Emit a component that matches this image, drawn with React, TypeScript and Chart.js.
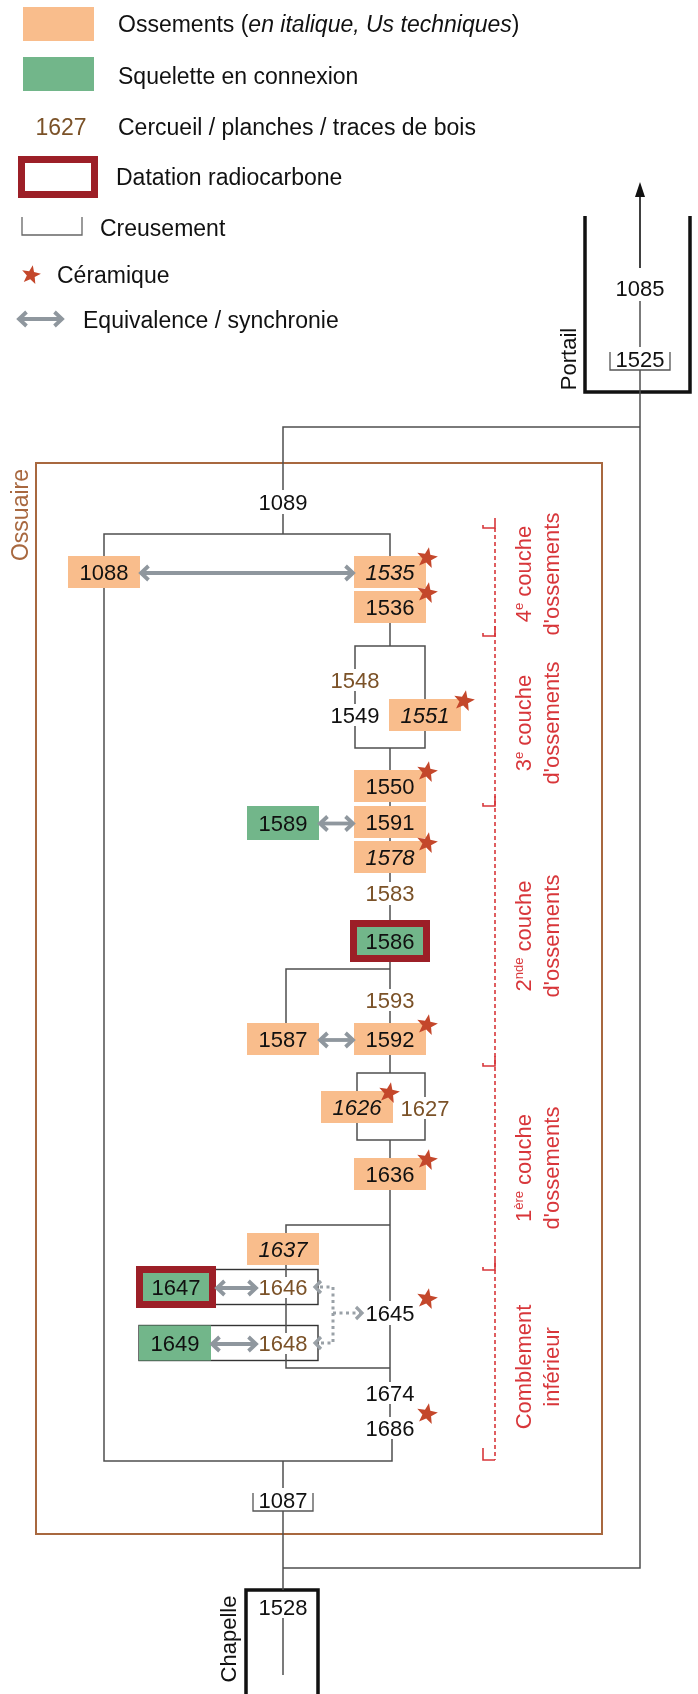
import React, { useEffect, useRef } from 'react';
import { Chart, registerables } from 'chart.js';

Chart.register(...registerables);

const W = 698;
const H = 1694;
const FONT = "'Liberation Sans', Arial, Helvetica, sans-serif";

// ---------- Stratigraphic units (US) ----------
// Ossements (bone deposits), orange boxes
const boneUS = ['1088', '1535', '1536', '1551', '1550', '1591', '1578', '1592', '1587', '1626', '1636', '1637'];
const boneCol = [104, 390, 390, 425, 390, 390, 390, 390, 283, 357, 390, 283];
const boneRow = [572, 572, 607, 715, 786, 822, 857, 1039, 1039, 1107, 1174, 1249];
const italicUS = ['1535', '1551', '1578', '1626', '1637'];

// Squelettes en connexion, green boxes
const skeletonUS = ['1589', '1586', '1647', '1649'];
const skeletonCol = [283, 390, 176, 175];
const skeletonRow = [823, 941, 1287, 1343];
const radiocarbonUS = ['1586', '1647'];

// Cercueil / planches / traces de bois (brown numbers)
const coffinUS = ['1548', '1583', '1593', '1627', '1646', '1648'];
const coffinCol = [355, 390, 390, 425, 283, 283];
const coffinRow = [680, 893, 1000, 1108, 1287, 1343];

// Other units (plain numbers)
const plainUS = ['1085', '1089', '1549', '1645', '1674', '1686', '1528'];
const plainCol = [640, 283, 355, 390, 390, 390, 283];
const plainRow = [288, 502, 715, 1313, 1393, 1428, 1607];

// Creusements (cuts)
const cutUS = ['1525', '1087'];
const cutCol = [640, 283];
const cutRow = [359, 1500];

// Céramique
const ceramicUS = ['1535', '1536', '1551', '1550', '1578', '1592', '1626', '1636', '1645', '1686'];

// Equivalence / synchronie
const equivalenceLeft = ['1088', '1589', '1587', '1647', '1649'];
const equivalenceRight = ['1535', '1591', '1592', '1646', '1648'];
const dottedFrom = ['1646', '1648'];
const dottedTo = '1645';

// Boxed rows (1647/1646 and 1649/1648)
const rowLeftUS = ['1647', '1649'];
const rowRightUS = ['1646', '1648'];

// Layers (right-hand brackets)
const layerMain = ['4', '3', '2', '1', 'Comblement'];
const layerSup = ['e', 'e', 'nde', 'ère', ''];
const layerRest = [' couche', ' couche', ' couche', ' couche', ''];
const layerSecond = ["d'ossements", "d'ossements", "d'ossements", "d'ossements", 'inférieur'];
const layerBounds = [528, 636, 806, 1066, 1270, 1460];
const layerLabelRow = [574, 723, 936, 1168, 1367];

// Matrix connectors (polylines, in matrix coordinates)
const connectors: number[][][] = [
  [[640, 301], [640, 347]],
  [[640, 370], [640, 1568], [283, 1568]],
  [[640, 427], [283, 427], [283, 490]],
  [[283, 514], [283, 534]],
  [[104, 556], [104, 534], [390, 534], [390, 556]],
  [[104, 588], [104, 1461], [392, 1461], [392, 1439]],
  [[390, 623], [390, 646]],
  [[355, 669], [355, 646], [425, 646], [425, 699]],
  [[355, 691], [355, 704]],
  [[355, 726], [355, 748], [425, 748], [425, 731]],
  [[390, 748], [390, 770]],
  [[390, 802], [390, 806]],
  [[390, 838], [390, 841]],
  [[390, 873], [390, 882]],
  [[390, 905], [390, 920]],
  [[390, 962], [390, 989]],
  [[286, 1023], [286, 969], [390, 969]],
  [[390, 1011], [390, 1023]],
  [[390, 1055], [390, 1073]],
  [[357, 1091], [357, 1073], [425, 1073], [425, 1097]],
  [[357, 1123], [357, 1140], [425, 1140], [425, 1119]],
  [[390, 1140], [390, 1158]],
  [[390, 1190], [390, 1301]],
  [[286, 1233], [286, 1225], [390, 1225]],
  [[286, 1265], [286, 1277]],
  [[286, 1298], [286, 1333]],
  [[286, 1354], [286, 1368], [390, 1368]],
  [[390, 1325], [390, 1382]],
  [[390, 1404], [390, 1417]],
  [[283, 1461], [283, 1488]],
  [[283, 1511], [283, 1590]],
  [[283, 1618], [283, 1675]],
];

// Enclosures
const ossuaireRect = [36, 463, 602, 1534];
const portailU = [[585, 216], [585, 392], [690, 392], [690, 216]];
const chapelleU = [[246, 1700], [246, 1590], [318, 1590], [318, 1700]];

// Legend items
const legendText = [
  'Squelette en connexion',
  'Cercueil / planches / traces de bois',
  'Datation radiocarbone',
  'Creusement',
  'Céramique',
  'Equivalence / synchronie',
];

const C = {
  line: '#4f4f4f',
  orange: '#f9bd8c',
  green: '#72b68a',
  red: '#9c1f27',
  brown: '#7b5228',
  text: '#111111',
  gray: '#8f979e',
  star: '#c4472b',
  layer: '#d8363a',
  ossuaire: '#a8683f',
};

const BOX_HW = 36;
const BOX_HH = 16;

type NodeInfo = { x: number; y: number; kind: string };

function buildNodes(): Record<string, NodeInfo> {
  const m: Record<string, NodeInfo> = {};
  boneUS.forEach((u, i) => (m[u] = { x: boneCol[i], y: boneRow[i], kind: 'bone' }));
  skeletonUS.forEach((u, i) => (m[u] = { x: skeletonCol[i], y: skeletonRow[i], kind: 'skeleton' }));
  coffinUS.forEach((u, i) => (m[u] = { x: coffinCol[i], y: coffinRow[i], kind: 'coffin' }));
  plainUS.forEach((u, i) => (m[u] = { x: plainCol[i], y: plainRow[i], kind: 'plain' }));
  cutUS.forEach((u, i) => (m[u] = { x: cutCol[i], y: cutRow[i], kind: 'cut' }));
  return m;
}

function drawText(
  ctx: CanvasRenderingContext2D,
  s: string,
  x: number,
  y: number,
  size = 22,
  color = C.text,
  italic = false,
  align: CanvasTextAlign = 'center'
) {
  ctx.font = `${italic ? 'italic ' : ''}${size}px ${FONT}`;
  ctx.fillStyle = color;
  ctx.textAlign = align;
  ctx.textBaseline = 'alphabetic';
  ctx.fillText(s, x, y + size * 0.36);
}

function drawStar(ctx: CanvasRenderingContext2D, cx: number, cy: number, R: number) {
  const r = R * 0.42;
  ctx.beginPath();
  for (let i = 0; i < 10; i++) {
    const a = -Math.PI / 2 + 0.18 + (i * Math.PI) / 5;
    const rad = i % 2 === 0 ? R : r;
    ctx.lineTo(cx + rad * Math.cos(a), cy + rad * Math.sin(a));
  }
  ctx.closePath();
  ctx.fillStyle = C.star;
  ctx.fill();
}

function chevron(ctx: CanvasRenderingContext2D, tipX: number, tipY: number, dir: number, len = 7.5, half = 7) {
  ctx.beginPath();
  ctx.moveTo(tipX - dir * len, tipY - half);
  ctx.lineTo(tipX, tipY);
  ctx.lineTo(tipX - dir * len, tipY + half);
  ctx.stroke();
}

function doubleArrow(ctx: CanvasRenderingContext2D, x1: number, x2: number, y: number) {
  ctx.save();
  ctx.strokeStyle = C.gray;
  ctx.lineWidth = 3.8;
  ctx.lineJoin = 'miter';
  ctx.lineCap = 'butt';
  ctx.beginPath();
  ctx.moveTo(x1 + 2, y);
  ctx.lineTo(x2 - 2, y);
  ctx.stroke();
  chevron(ctx, x1 + 1, y, -1);
  chevron(ctx, x2 - 1, y, 1);
  ctx.restore();
}

function rotatedText(
  ctx: CanvasRenderingContext2D,
  parts: { s: string; size: number; rise: number; italic?: boolean }[],
  cx: number,
  cy: number,
  color: string
) {
  ctx.save();
  ctx.translate(cx, cy);
  ctx.rotate(-Math.PI / 2);
  ctx.fillStyle = color;
  ctx.textBaseline = 'alphabetic';
  ctx.textAlign = 'left';
  let total = 0;
  const widths = parts.map((p) => {
    ctx.font = `${p.italic ? 'italic ' : ''}${p.size}px ${FONT}`;
    const w = ctx.measureText(p.s).width;
    total += w;
    return w;
  });
  let x = -total / 2;
  parts.forEach((p, i) => {
    ctx.font = `${p.italic ? 'italic ' : ''}${p.size}px ${FONT}`;
    ctx.fillText(p.s, x, 22 * 0.36 - p.rise);
    x += widths[i];
  });
  ctx.restore();
}

const harrisPlugin = {
  id: 'harrisMatrix',
  afterDatasetsDraw(chart: any) {
    const ctx: CanvasRenderingContext2D = chart.ctx;
    const sx = chart.scales.x;
    const sy = chart.scales.y;
    const X = (v: number) => sx.getPixelForValue(v);
    const Y = (v: number) => sy.getPixelForValue(v);
    const nodes = buildNodes();

    ctx.save();
    ctx.lineCap = 'butt';

    // ---------- Legend ----------
    ctx.fillStyle = C.orange;
    ctx.fillRect(X(23), Y(7), X(94) - X(23), Y(41) - Y(7));
    ctx.fillStyle = C.green;
    ctx.fillRect(X(23), Y(57), X(94) - X(23), Y(91) - Y(57));
    {
      let x = X(118);
      const y = Y(24);
      const seg = [
        { s: 'Ossements (', it: false },
        { s: 'en italique, Us techniques', it: true },
        { s: ')', it: false },
      ];
      seg.forEach((p) => {
        ctx.font = `${p.it ? 'italic ' : ''}23px ${FONT}`;
        ctx.fillStyle = C.text;
        ctx.textAlign = 'left';
        ctx.textBaseline = 'alphabetic';
        ctx.fillText(p.s, x, y + 23 * 0.36);
        x += ctx.measureText(p.s).width;
      });
    }
    drawText(ctx, legendText[0], X(118), Y(76), 23, C.text, false, 'left');
    drawText(ctx, '1627', X(61), Y(127), 23, C.brown);
    drawText(ctx, legendText[1], X(118), Y(127), 23, C.text, false, 'left');
    ctx.fillStyle = C.red;
    ctx.fillRect(X(18), Y(156), X(98) - X(18), Y(198) - Y(156));
    ctx.fillStyle = '#ffffff';
    ctx.fillRect(X(25), Y(163), X(91) - X(25), Y(191) - Y(163));
    drawText(ctx, legendText[2], X(116), Y(177), 23, C.text, false, 'left');
    ctx.strokeStyle = '#666';
    ctx.lineWidth = 1.3;
    ctx.beginPath();
    ctx.moveTo(X(22), Y(217));
    ctx.lineTo(X(22), Y(235));
    ctx.lineTo(X(82), Y(235));
    ctx.lineTo(X(82), Y(217));
    ctx.stroke();
    drawText(ctx, legendText[3], X(100), Y(228), 23, C.text, false, 'left');
    drawStar(ctx, X(31), Y(275), 10);
    drawText(ctx, legendText[4], X(57), Y(275), 23, C.text, false, 'left');
    doubleArrow(ctx, X(18), X(63), Y(319));
    drawText(ctx, legendText[5], X(83), Y(320), 23, C.text, false, 'left');

    // ---------- Enclosures ----------
    ctx.strokeStyle = C.ossuaire;
    ctx.lineWidth = 2;
    ctx.strokeRect(X(ossuaireRect[0]), Y(ossuaireRect[1]), X(ossuaireRect[2]) - X(ossuaireRect[0]), Y(ossuaireRect[3]) - Y(ossuaireRect[1]));
    rotatedText(ctx, [{ s: 'Ossuaire', size: 23, rise: 0 }], X(20), Y(515), C.ossuaire);

    ctx.strokeStyle = '#111';
    ctx.lineWidth = 3.5;
    ctx.lineJoin = 'miter';
    [portailU, chapelleU].forEach((poly) => {
      ctx.beginPath();
      poly.forEach((p, i) => (i === 0 ? ctx.moveTo(X(p[0]), Y(p[1])) : ctx.lineTo(X(p[0]), Y(p[1]))));
      ctx.stroke();
    });
    rotatedText(ctx, [{ s: 'Portail', size: 22, rise: 0 }], X(568), Y(359), '#111');
    rotatedText(ctx, [{ s: 'Chapelle', size: 22, rise: 0 }], X(228), Y(1639), '#111');

    // Portail arrow
    ctx.strokeStyle = '#111';
    ctx.lineWidth = 1.6;
    ctx.beginPath();
    ctx.moveTo(X(640), Y(268));
    ctx.lineTo(X(640), Y(194));
    ctx.stroke();
    ctx.fillStyle = '#111';
    ctx.beginPath();
    ctx.moveTo(X(640), Y(182));
    ctx.lineTo(X(645), Y(197));
    ctx.lineTo(X(635), Y(197));
    ctx.closePath();
    ctx.fill();

    // ---------- Boxed rows (white, outlined) ----------
    rowLeftUS.forEach((l, i) => {
      const a = nodes[l];
      const b = nodes[rowRightUS[i]];
      const x0 = a.x - BOX_HW;
      const x1 = b.x + 35;
      ctx.fillStyle = '#fff';
      ctx.strokeStyle = '#333';
      ctx.lineWidth = 1.4;
      ctx.fillRect(X(x0), Y(a.y - 17.5), X(x1) - X(x0), Y(a.y + 17.5) - Y(a.y - 17.5));
      ctx.strokeRect(X(x0), Y(a.y - 17.5), X(x1) - X(x0), Y(a.y + 17.5) - Y(a.y - 17.5));
    });

    // ---------- Connectors ----------
    ctx.strokeStyle = C.line;
    ctx.lineWidth = 1.5;
    ctx.lineJoin = 'miter';
    connectors.forEach((poly) => {
      ctx.beginPath();
      poly.forEach((p, i) => (i === 0 ? ctx.moveTo(X(p[0]), Y(p[1])) : ctx.lineTo(X(p[0]), Y(p[1]))));
      ctx.stroke();
    });

    // ---------- Boxes ----------
    boneUS.forEach((u) => {
      const n = nodes[u];
      ctx.fillStyle = C.orange;
      ctx.fillRect(X(n.x - BOX_HW), Y(n.y - BOX_HH), X(n.x + BOX_HW) - X(n.x - BOX_HW), Y(n.y + BOX_HH) - Y(n.y - BOX_HH));
    });
    skeletonUS.forEach((u) => {
      const n = nodes[u];
      if (radiocarbonUS.includes(u)) {
        ctx.fillStyle = C.red;
        ctx.fillRect(X(n.x - 40), Y(n.y - 21), X(n.x + 40) - X(n.x - 40), Y(n.y + 21) - Y(n.y - 21));
        ctx.fillStyle = C.green;
        ctx.fillRect(X(n.x - 33), Y(n.y - 14), X(n.x + 33) - X(n.x - 33), Y(n.y + 14) - Y(n.y - 14));
      } else {
        const hh = rowLeftUS.includes(u) ? 17.5 : 17;
        ctx.fillStyle = C.green;
        ctx.fillRect(X(n.x - BOX_HW), Y(n.y - hh), X(n.x + BOX_HW) - X(n.x - BOX_HW), Y(n.y + hh) - Y(n.y - hh));
      }
    });

    // Creusement brackets
    ctx.strokeStyle = '#555';
    ctx.lineWidth = 1.3;
    cutUS.forEach((u) => {
      const n = nodes[u];
      ctx.beginPath();
      ctx.moveTo(X(n.x - 30), Y(n.y - 7));
      ctx.lineTo(X(n.x - 30), Y(n.y + 11));
      ctx.lineTo(X(n.x + 30), Y(n.y + 11));
      ctx.lineTo(X(n.x + 30), Y(n.y - 7));
      ctx.stroke();
    });

    // ---------- Equivalence arrows ----------
    equivalenceLeft.forEach((l, i) => {
      const a = nodes[l];
      const b = nodes[equivalenceRight[i]];
      const aHalf = radiocarbonUS.includes(l) ? 40 : BOX_HW;
      const bHalf = b.kind === 'coffin' ? 26 : BOX_HW;
      doubleArrow(ctx, X(a.x + aHalf), X(b.x - bHalf), Y((a.y + b.y) / 2 + 1));
    });

    // dotted links 1646 / 1648 -> 1645
    {
      const t = nodes[dottedTo];
      const f1 = nodes[dottedFrom[0]];
      const f2 = nodes[dottedFrom[1]];
      const vx = 333;
      ctx.save();
      ctx.strokeStyle = '#9aa1a7';
      ctx.lineWidth = 3;
      ctx.setLineDash([3, 3.5]);
      ctx.beginPath();
      ctx.moveTo(X(320), Y(f1.y));
      ctx.lineTo(X(vx), Y(f1.y));
      ctx.lineTo(X(vx), Y(f2.y));
      ctx.lineTo(X(320), Y(f2.y));
      ctx.moveTo(X(vx), Y(t.y));
      ctx.lineTo(X(t.x - 30), Y(t.y));
      ctx.stroke();
      ctx.setLineDash([]);
      ctx.lineWidth = 3.2;
      chevron(ctx, X(315), Y(f1.y), -1, 6, 6);
      chevron(ctx, X(315), Y(f2.y), -1, 6, 6);
      chevron(ctx, X(t.x - 28), Y(t.y), 1, 6, 6);
      ctx.restore();
    }

    // ---------- Labels ----------
    boneUS.forEach((u) => {
      const n = nodes[u];
      drawText(ctx, u, X(n.x), Y(n.y), 22, C.text, italicUS.includes(u));
    });
    skeletonUS.forEach((u) => {
      const n = nodes[u];
      drawText(ctx, u, X(n.x), Y(n.y), 22, C.text);
    });
    coffinUS.forEach((u) => {
      const n = nodes[u];
      drawText(ctx, u, X(n.x), Y(n.y), 22, C.brown);
    });
    plainUS.forEach((u) => {
      const n = nodes[u];
      drawText(ctx, u, X(n.x), Y(n.y), 22, C.text);
    });
    cutUS.forEach((u) => {
      const n = nodes[u];
      drawText(ctx, u, X(n.x), Y(n.y), 22, C.text);
    });

    // Céramique stars
    ceramicUS.forEach((u) => {
      const n = nodes[u];
      const dx = n.kind === 'bone' && n.x === 357 ? 32 : n.kind === 'bone' && n.x === 425 ? 39 : 37;
      drawStar(ctx, X(n.x + dx), Y(n.y - 14), 11);
    });

    // ---------- Layer brackets ----------
    ctx.strokeStyle = C.layer;
    ctx.lineWidth = 1.6;
    ctx.setLineDash([4, 3]);
    ctx.beginPath();
    ctx.moveTo(X(495), Y(layerBounds[0]));
    ctx.lineTo(X(495), Y(layerBounds[layerBounds.length - 1]));
    ctx.stroke();
    ctx.setLineDash([]);
    layerBounds.forEach((b, i) => {
      ctx.beginPath();
      if (i === layerBounds.length - 1) {
        ctx.moveTo(X(483), Y(b - 12));
        ctx.lineTo(X(483), Y(b));
        ctx.lineTo(X(495), Y(b));
      } else {
        ctx.moveTo(X(495), Y(b - 10));
        ctx.lineTo(X(495), Y(b));
        ctx.lineTo(X(483), Y(b));
        ctx.lineTo(X(483), Y(b - 3));
      }
      ctx.stroke();
    });
    layerMain.forEach((m, i) => {
      const cy = Y(layerLabelRow[i]);
      const parts = [{ s: m, size: 22, rise: 0 }];
      if (layerSup[i]) parts.push({ s: layerSup[i], size: 13, rise: 8 });
      if (layerRest[i]) parts.push({ s: layerRest[i], size: 22, rise: 0 });
      rotatedText(ctx, parts, X(523), cy, C.layer);
      rotatedText(ctx, [{ s: layerSecond[i], size: 22, rise: 0 }], X(551), cy, C.layer);
    });

    ctx.restore();
  },
};

export default function App() {
  const canvasRef = useRef<HTMLCanvasElement | null>(null);

  useEffect(() => {
    document.body.style.margin = '0';
    const canvas = canvasRef.current;
    if (!canvas) return;
    const nodes = buildNodes();
    const points = Object.keys(nodes).map((k) => ({ x: nodes[k].x, y: nodes[k].y }));
    const chart = new Chart(canvas, {
      type: 'scatter',
      data: {
        datasets: [
          {
            label: 'US',
            data: points,
            pointRadius: 0,
            pointHoverRadius: 0,
            showLine: false,
          },
        ],
      },
      options: {
        animation: false,
        responsive: false,
        maintainAspectRatio: false,
        devicePixelRatio: 1,
        events: [],
        layout: { padding: 0 },
        plugins: { legend: { display: false }, tooltip: { enabled: false } },
        scales: {
          x: { type: 'linear', display: false, min: 0, max: W },
          y: { type: 'linear', display: false, min: 0, max: H, reverse: true },
        },
      },
      plugins: [harrisPlugin],
    });
    return () => chart.destroy();
  }, []);

  return (
    <div style={{ width: W, height: H, background: '#fff' }}>
      <canvas ref={canvasRef} width={W} height={H} style={{ display: 'block' }} />
    </div>
  );
}
